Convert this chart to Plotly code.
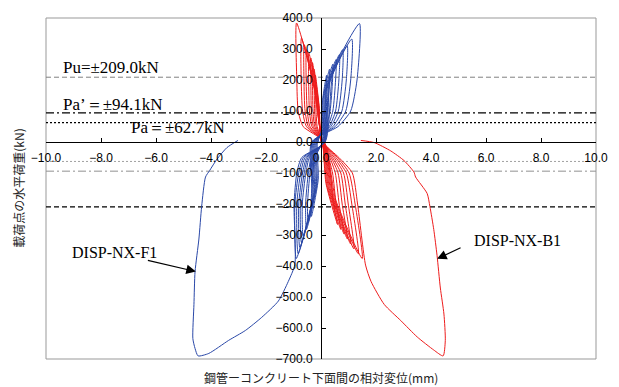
import plotly.graph_objects as go

# ---------------- data ----------------
# DISP-NX-F1 (blue): positive-side loops
bp_peak_x = [0.20, 0.31, 0.43, 0.55, 0.67, 0.79, 0.95, 1.12, 1.40]
bp_peak_y = [215, 235, 251, 266, 282, 298, 311, 332, 382]
bp_k50 = [0.06, 0.12, 0.18, 0.24, 0.30, 0.36, 0.44, 0.52, 0.62]
bp_k100 = [0.14, 0.23, 0.33, 0.43, 0.53, 0.63, 0.76, 0.90, 1.08]
bp_k200 = [0.20, 0.31, 0.42, 0.53, 0.65, 0.77, 0.92, 1.08, 1.31]
bp_in_x = [0.05, 0.08, 0.12, 0.16, 0.20, 0.24, 0.29, 0.34, 0.45]
bp_in_y = [129, 141, 151, 160, 169, 179, 187, 199, 229]
# DISP-NX-F1 (blue): negative-side loops
bn_peak_x = [-0.35, -0.47, -0.53, -0.65, -0.71, -0.77, -0.83, -0.90, -0.95]
bn_peak_y = [-240, -260, -282, -302, -324, -340, -360, -376, -395]
bn_k50 = [-0.22, -0.30, -0.35, -0.42, -0.47, -0.52, -0.58, -0.64, -0.70]
bn_k100 = [-0.30, -0.40, -0.46, -0.55, -0.61, -0.67, -0.74, -0.81, -0.88]
bn_k200 = [-0.36, -0.49, -0.56, -0.68, -0.75, -0.81, -0.88, -0.95, -0.98]
bn_in_x = [-0.10, -0.14, -0.17, -0.21, -0.24, -0.27, -0.30, -0.33, -0.36]
bn_in_y = [-120, -130, -141, -151, -162, -170, -180, -188, -198]
b_zero_up = [-0.10, -0.13, -0.16, -0.19, -0.22, -0.25, -0.28, -0.31, -0.34]
b_zero_dn = [0.05, 0.07, 0.09, 0.10, 0.11, 0.12, 0.13, 0.14, 0.15]
# DISP-NX-F1 final excursion
bf_x = [-1.19, -1.55, -2.16, -2.75, -3.36, -4.08, -4.47, -4.58, -4.66, -4.62,
        -4.58, -4.44, -4.34, -4.20, -4.05, -3.78, -3.42, -3.02]
bf_y = [-450, -513, -566, -608, -640, -682, -690, -666, -634, -524,
        -418, -313, -208, -113, -92, -55, -18, 5]

# DISP-NX-B1 (red): positive-side loops
rp_peak_x = [-0.20, -0.25, -0.31, -0.37, -0.44, -0.53, -0.61, -0.71, -0.89]
rp_peak_y = [215, 235, 256, 271, 287, 298, 314, 335, 384]
rp_k50 = [-0.14, -0.18, -0.23, -0.28, -0.33, -0.40, -0.46, -0.53, -0.65]
rp_k100 = [-0.18, -0.23, -0.29, -0.35, -0.42, -0.50, -0.58, -0.67, -0.83]
rp_k200 = [-0.20, -0.25, -0.31, -0.37, -0.45, -0.54, -0.62, -0.72, -0.88]
rp_in_x = [-0.06, -0.08, -0.10, -0.12, -0.14, -0.17, -0.20, -0.23, -0.28]
rp_in_y = [108, 118, 128, 136, 144, 149, 157, 168, 192]
# DISP-NX-B1 (red): negative-side loops
rn_peak_x = [0.60, 0.72, 0.84, 0.96, 1.08, 1.20, 1.36, 1.50, 1.62]
rn_peak_y = [-266, -282, -297, -313, -329, -345, -361, -376, -397]
rn_k50 = [0.22, 0.27, 0.32, 0.37, 0.42, 0.48, 0.54, 0.60, 0.65]
rn_k100 = [0.34, 0.42, 0.52, 0.62, 0.72, 0.82, 0.92, 1.02, 1.14]
rn_k200 = [0.45, 0.55, 0.66, 0.77, 0.88, 0.99, 1.12, 1.24, 1.33]
rn_in_x = [0.18, 0.22, 0.27, 0.32, 0.37, 0.42, 0.48, 0.54, 0.60]
rn_in_y = [-133, -141, -149, -157, -165, -173, -181, -188, -199]
r_zero_up = [0.04, 0.05, 0.06, 0.07, 0.08, 0.09, 0.10, 0.11, 0.12]
r_zero_dn = [0.00, 0.01, 0.02, 0.03, 0.04, 0.05, 0.06, 0.07, 0.08]
# DISP-NX-B1 final excursion
rf_x = [1.82, 2.30, 2.90, 3.50, 4.10, 4.44, 4.52, 4.47, 4.34, 4.22, 4.10,
        3.96, 3.86, 3.44, 3.38, 3.02, 2.54, 1.94, 1.45]
rf_y = [-450, -524, -576, -629, -671, -690, -640, -555, -471, -366, -282,
        -208, -166, -113, -97, -60, -29, -2, 5]

# reference load levels
ref_levels = [209.0, 94.1, 62.7, -62.7, -94.1, -209.0]
ref_labels = ["Pu=±209.0kN", "Pa’＝±94.1kN", "Pa＝±62.7kN"]

x_ticks = [-10, -8, -6, -4, -2, 0, 2, 4, 6, 8, 10]
y_ticks = [400, 300, 200, 100, 0, -100, -200, -300, -400, -500, -600, -700]


def build(p_pk_x, p_pk_y, p50, p100, p200, p_in_x, p_in_y,
          n_pk_x, n_pk_y, n50, n100, n200, n_in_x, n_in_y,
          z_up, z_dn, f_x, f_y):
    xs, ys = [0.0], [0.0]
    n = len(p_pk_x)
    for k in range(n):
        xs += [z_up[k], p50[k], p100[k], p200[k], p_pk_x[k], p_in_x[k], z_dn[k]]
        ys += [0, 50, 100, 200, p_pk_y[k], p_in_y[k], 0]
        xs += [n50[k], n100[k], n200[k], n_pk_x[k]]
        ys += [-50, -100, -200, n_pk_y[k]]
        if k < n - 1:
            xs += [n_in_x[k]]
            ys += [n_in_y[k]]
    xs += f_x
    ys += f_y
    return xs, ys


blue_x, blue_y = build(bp_peak_x, bp_peak_y, bp_k50, bp_k100, bp_k200, bp_in_x, bp_in_y,
                       bn_peak_x, bn_peak_y, bn_k50, bn_k100, bn_k200, bn_in_x, bn_in_y,
                       b_zero_up, b_zero_dn, bf_x, bf_y)
red_x, red_y = build(rp_peak_x, rp_peak_y, rp_k50, rp_k100, rp_k200, rp_in_x, rp_in_y,
                     rn_peak_x, rn_peak_y, rn_k50, rn_k100, rn_k200, rn_in_x, rn_in_y,
                     r_zero_up, r_zero_dn, rf_x, rf_y)

fig = go.Figure()

# reference lines
ref_styles = [("#808080", "5px,3px", 1), ("#000000", "8px,3px,2px,3px", 1.2),
              ("#000000", "2px,2px", 1.2), ("#a0a0a0", "2px,2px", 1),
              ("#909090", "8px,3px,2px,3px", 1), ("#000000", "5px,3px", 1.2)]
for lvl, (c, d, w) in zip(ref_levels, ref_styles):
    fig.add_trace(go.Scatter(x=[x_ticks[0], x_ticks[-1]], y=[lvl, lvl], mode="lines",
                             line=dict(color=c, dash=d, width=w), hoverinfo="skip"))

fig.add_trace(go.Scatter(x=red_x, y=red_y, mode="lines", name="DISP-NX-B1",
                         line=dict(color="#ee1c1c", width=1, shape="spline", smoothing=0.6)))
fig.add_trace(go.Scatter(x=blue_x, y=blue_y, mode="lines", name="DISP-NX-F1",
                         line=dict(color="#2a48a8", width=1, shape="spline", smoothing=0.6)))

tickfont = dict(family="Liberation Sans, Arial, sans-serif", size=12, color="#000")
fig.update_layout(
    width=619, height=387,
    margin=dict(l=46, r=19, t=11, b=28),
    paper_bgcolor="white", plot_bgcolor="white",
    showlegend=False,
    xaxis=dict(range=[-10, 10], tickvals=x_ticks, tickformat=".1f",
               ticks="inside", ticklen=4, tickcolor="black",
               showline=True, linecolor="black", linewidth=1,
               anchor="free", position=700 / 1100,
               showgrid=False, zeroline=False, tickfont=tickfont,
               ticklabelstandoff=5),
    yaxis=dict(range=[-700, 400], tickvals=y_ticks, tickformat=".1f",
               ticks="inside", ticklen=4, tickcolor="black",
               showline=True, linecolor="black", linewidth=1,
               anchor="free", position=0.5,
               showgrid=False, zeroline=False, tickfont=tickfont,
               ticklabelstandoff=6),
    shapes=[dict(type="rect", xref="paper", yref="paper", x0=0, x1=1, y0=0, y1=1,
                 line=dict(color="#999999", width=1), layer="below")],
)

serif = dict(family="Liberation Serif, Times New Roman, serif", size=17, color="black")
fig.add_annotation(x=-9.46, y=239, text=ref_labels[0], showarrow=False,
                   xanchor="left", yanchor="middle", font=serif)
fig.add_annotation(x=-9.46, y=122, text=ref_labels[1], showarrow=False,
                   xanchor="left", yanchor="middle", font=serif)
fig.add_annotation(x=-7.0, y=48, text=ref_labels[2], showarrow=False,
                   xanchor="left", yanchor="middle", font=serif)

lab = dict(family="Liberation Serif, Times New Roman, serif", size=16, color="black")
fig.add_annotation(x=-9.13, y=-358, text="DISP-NX-F1", showarrow=False,
                   xanchor="left", yanchor="middle", font=lab)
fig.add_annotation(x=5.49, y=-318, text="DISP-NX-B1", showarrow=False,
                   xanchor="left", yanchor="middle", font=lab)
fig.add_annotation(x=-4.55, y=-418, ax=-6.35, ay=-381, axref="x", ayref="y",
                   xref="x", yref="y", text="", showarrow=True,
                   arrowhead=2, arrowsize=1.6, arrowwidth=1.2, arrowcolor="black")
fig.add_annotation(x=4.22, y=-377, ax=5.13, ay=-339, axref="x", ayref="y",
                   xref="x", yref="y", text="", showarrow=True,
                   arrowhead=2, arrowsize=1.6, arrowwidth=1.2, arrowcolor="black")

cjk = dict(family="Noto Sans CJK JP, sans-serif", size=12, color="#222")
fig.add_annotation(xref="paper", yref="paper", x=(18 - 46) / 554, y=0.5,
                   text="載荷点の水平荷重(kN)", textangle=-90, showarrow=False,
                   xanchor="center", yanchor="middle", font=cjk)
fig.add_annotation(xref="paper", yref="paper", x=0.5, y=(359 - 378) / 348,
                   text="鋼管ーコンクリート下面間の相対変位(mm)", showarrow=False,
                   xanchor="center", yanchor="middle", font=cjk)

fig.write_html("out.html")
